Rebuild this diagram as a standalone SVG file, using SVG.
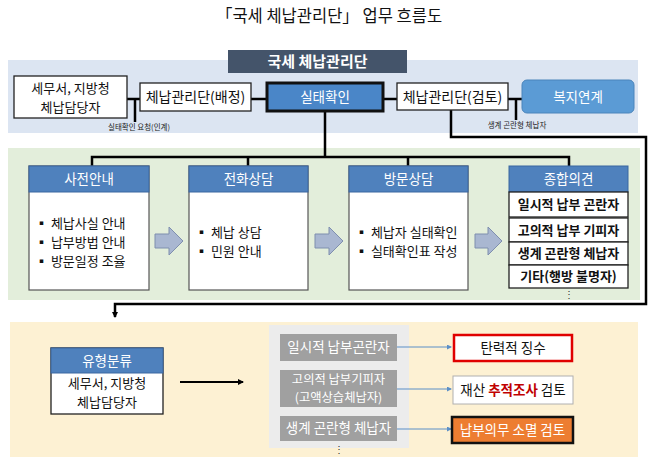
<svg xmlns="http://www.w3.org/2000/svg" width="658" height="470" viewBox="0 0 658 470">
<defs>
<style>
text{font-family:"Noto Sans CJK KR","Noto Sans",sans-serif;}
.t{font-size:13.5px;fill:#111;text-anchor:middle;}
.t2{font-size:13px;fill:#111;text-anchor:middle;}
.tw{font-size:13.5px;fill:#fff;text-anchor:middle;}
.tb{font-size:13px;fill:#111;}
.sm{font-size:7.5px;fill:#222;text-anchor:middle;}
.box{fill:#fff;stroke:#222;stroke-width:1.3;}
.hdr{fill:#4f81bd;stroke:#3a66a0;stroke-width:1;}
.body{fill:#fff;stroke:#555;stroke-width:1.2;}
.conn{fill:none;stroke:#000;stroke-width:2.5;}
.gray{fill:#a0a0a0;}
.blk{fill:#a9b7d1;stroke:#7f8fae;stroke-width:1;}
.thin{fill:none;stroke:#5b8fc7;stroke-width:1;}
</style>
<marker id="ah" markerWidth="6" markerHeight="6" refX="5" refY="3" orient="auto" markerUnits="userSpaceOnUse"><path d="M0,0 L6,3 L0,6 z" fill="#000"/></marker>
<marker id="ab" markerWidth="5" markerHeight="5" refX="4" refY="2.5" orient="auto" markerUnits="userSpaceOnUse"><path d="M0,0 L5,2.5 L0,5 z" fill="#5b8fc7"/></marker>
</defs>
<rect width="658" height="470" fill="#fff"/>
<text x="329" y="22" style="font-size:16.5px;fill:#111;text-anchor:middle;">「국세 체납관리단」 업무 흐름도</text>

<!-- bands -->
<rect x="8" y="60" width="630" height="73" fill="#dce5f2"/>
<rect x="8" y="148" width="632" height="152" fill="#e3eedb"/>
<rect x="10" y="322" width="628" height="135" fill="#fdf1d3"/>
<rect x="269" y="325" width="140" height="123" fill="#ececec"/>

<!-- connectors -->
<g id="connectors">
<path class="conn" d="M127,99 H140 M135,99 V122"/>
<path class="conn" d="M251,99 H267"/>
<path class="conn" d="M383,99 H397"/>
<path class="conn" d="M508,99 H522 M516,99 V120"/>
<path class="conn" d="M325,111 V157 M92,166 V157 H569 V166 M248,157 V166 M408,157 V166"/>
<path class="conn" d="M451,110 V137 H646 V304 H115 V317" marker-end="url(#ah)"/>
<path d="M180,382 H243" stroke="#000" stroke-width="2" fill="none" marker-end="url(#ah)"/>
<path class="thin" d="M397,347 H451" marker-end="url(#ab)"/>
<path class="thin" d="M397,389 H451" marker-end="url(#ab)"/>
<path class="thin" d="M397,429 H451" marker-end="url(#ab)"/>
<text class="sm" x="139" y="130">실태확인 요청(인계)</text>
<text class="sm" x="517" y="128">생계 곤란형 체납자</text>
</g>

<g id="header">
<rect x="228" y="50" width="179" height="23" fill="#44546a"/>
<text x="317.5" y="67" style="font-size:15px;font-weight:bold;fill:#fff;text-anchor:middle;">국세 체납관리단</text>
</g>

<g id="n-tax">
<rect class="box" x="14" y="76" width="113" height="42"/>
<text class="t2" x="70.5" y="93">세무서, 지방청</text>
<text class="t2" x="70.5" y="112">체납담당자</text>
</g>
<g id="n-assign">
<rect class="box" x="140" y="83" width="111" height="28"/>
<text class="t" x="195.5" y="102" style="font-size:14px">체납관리단(배정)</text>
</g>
<g id="n-check">
<rect x="267" y="83" width="116" height="28" fill="#4a86c8" stroke="#111" stroke-width="3"/>
<text class="tw" x="325" y="102">실태확인</text>
</g>
<g id="n-review">
<rect class="box" x="397" y="83" width="111" height="27"/>
<text class="t" x="452.5" y="102" style="font-size:14px">체납관리단(검토)</text>
</g>
<g id="n-welfare">
<rect x="522" y="80" width="112" height="33" rx="5" fill="#5b9bd5" stroke="#4a84bb" stroke-width="1"/>
<text class="tw" x="578" y="102">복지연계</text>
</g>

<g id="n-pre">
<rect class="body" x="29" y="166" width="120" height="124"/>
<rect class="hdr" x="29" y="166" width="120" height="26"/>
<text class="tw" x="89" y="184">사전안내</text>
<text class="tb" x="35" y="228">▪ 체납사실 안내</text>
<text class="tb" x="35" y="247">▪ 납부방법 안내</text>
<text class="tb" x="35" y="266">▪ 방문일정 조율</text>
</g>
<path class="blk" d="M155,234 H169 V227 L183,241 L169,255 V248 H155 Z"/>
<g id="n-phone">
<rect class="body" x="189" y="166" width="119" height="124"/>
<rect class="hdr" x="189" y="166" width="119" height="26"/>
<text class="tw" x="248.5" y="184">전화상담</text>
<text class="tb" x="195" y="237">▪ 체납 상담</text>
<text class="tb" x="195" y="256">▪ 민원 안내</text>
</g>
<path class="blk" d="M315,234 H329 V227 L343,241 L329,255 V248 H315 Z"/>
<g id="n-visit">
<rect class="body" x="349" y="166" width="119" height="124"/>
<rect class="hdr" x="349" y="166" width="119" height="26"/>
<text class="tw" x="408.5" y="184">방문상담</text>
<text class="tb" x="355" y="237">▪ 체납자 실태확인</text>
<text class="tb" x="355" y="256">▪ 실태확인표 작성</text>
</g>
<path class="blk" d="M475,234 H488 V227 L502,241 L488,255 V248 H475 Z"/>
<g id="n-opinion">
<rect class="hdr" x="509" y="166" width="119" height="26"/>
<text class="tw" x="568.5" y="184">종합의견</text>
<rect class="box" x="509" y="192" width="119" height="25"/>
<text class="t" x="568.5" y="209" style="font-weight:bold;font-size:13px">일시적 납부 곤란자</text>
<rect class="box" x="509" y="218" width="119" height="24"/>
<text class="t" x="568.5" y="235" style="font-weight:bold;font-size:13px">고의적 납부 기피자</text>
<rect class="box" x="509" y="242" width="119" height="23"/>
<text class="t" x="568.5" y="258" style="font-weight:bold;font-size:13px">생계 곤란형 체납자</text>
<rect class="box" x="509" y="265" width="119" height="23"/>
<text class="t" x="568.5" y="281" style="font-weight:bold;font-size:13px">기타(행방 불명자)</text>
<text x="569" y="298" style="font-size:10px;fill:#333;text-anchor:middle;">⋮</text>
</g>

<g id="n-classify">
<rect class="box" x="51" y="348" width="112" height="66"/>
<rect class="hdr" x="51" y="348" width="112" height="25"/>
<text class="tw" x="107" y="366">유형분류</text>
<text class="t2" x="107" y="388">세무서, 지방청</text>
<text class="t2" x="107" y="407">체납담당자</text>
</g>

<g id="n-g1">
<rect class="gray" x="280" y="334" width="117" height="27"/>
<text class="tw" x="338.5" y="352">일시적 납부곤란자</text>
</g>
<g id="n-g2">
<rect class="gray" x="280" y="370" width="117" height="37"/>
<text class="tw" x="338.5" y="384" style="font-size:12.3px">고의적 납부기피자</text>
<text class="tw" x="338.5" y="402" style="font-size:12.3px">(고액상습체납자)</text>
</g>
<g id="n-g3">
<rect class="gray" x="280" y="416" width="117" height="25"/>
<text class="tw" x="338.5" y="433">생계 곤란형 체납자</text>
<text x="339" y="453" style="font-size:10px;fill:#333;text-anchor:middle;">⋮</text>
</g>

<g id="n-r1">
<rect x="454" y="335" width="118" height="26" fill="#fff" stroke="#e00000" stroke-width="2.5"/>
<text class="t" x="513" y="353">탄력적 징수</text>
</g>
<g id="n-r2">
<rect x="453" y="376" width="120" height="28" fill="#fff" stroke="#b0b0b0" stroke-width="1"/>
<text class="t" x="513" y="395">재산 <tspan style="fill:#c00000;font-weight:bold">추적조사</tspan> 검토</text>
</g>
<g id="n-r3">
<rect x="452" y="417" width="121" height="26" fill="#ed7d31" stroke="#111" stroke-width="2.5"/>
<text class="tw" x="512.5" y="435">납부의무 소멸 검토</text>
</g>
</svg>
